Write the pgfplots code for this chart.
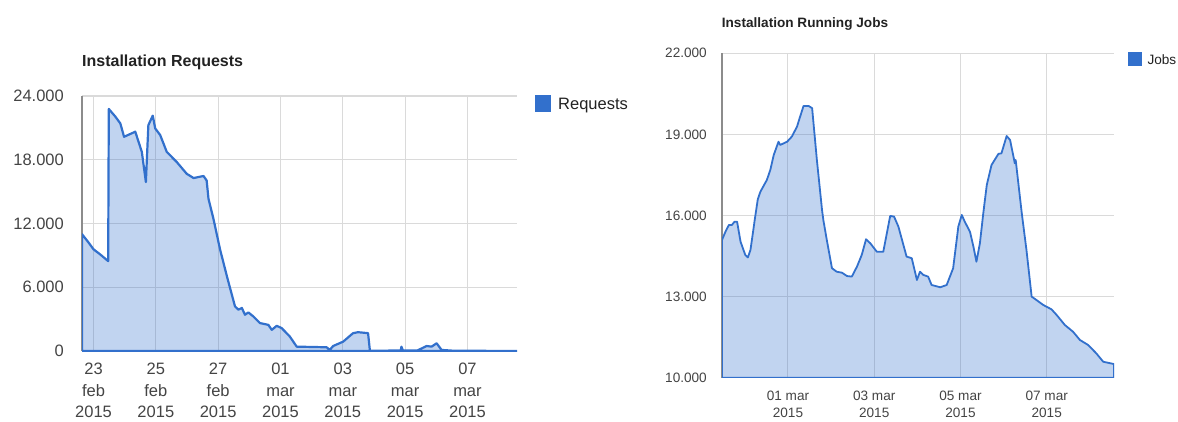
\documentclass[border=0pt]{standalone}
\usepackage{pgfplots}
\pgfplotsset{compat=1.18}
\usepackage{pgfplotstable}
\usepackage{fontspec}
\setmainfont{Liberation Sans}
\definecolor{gline}{RGB}{50,112,204}
\definecolor{gridc}{RGB}{218,218,218}
\definecolor{tickc}{RGB}{68,68,68}
\definecolor{titc}{RGB}{34,34,34}

\pgfplotstableread{
x y
-0.37 11000
-0.16 10210
0.00 9570
0.21 9100
0.47 8460
0.49 22780
0.70 22060
0.86 21420
0.98 20160
1.34 20640
1.55 18740
1.68 15900
1.76 21260
1.90 22150
1.98 20950
2.14 20320
2.35 18740
2.67 17790
2.99 16680
3.21 16280
3.53 16470
3.63 16050
3.69 14310
3.85 12420
4.06 9570
4.28 7040
4.38 5940
4.54 4200
4.65 3890
4.76 4050
4.86 3410
4.97 3630
5.13 3250
5.34 2630
5.61 2460
5.72 1990
5.88 2370
6.04 2150
6.30 1360
6.52 410
7.48 350
7.58 100
7.69 470
8.01 880
8.33 1680
8.49 1770
8.81 1680
8.87 20
9.86 50
9.88 410
9.93 50
10.40 60
10.69 470
10.85 410
11.01 730
11.17 100
11.53 30
13.59 0
}\reqdata

\pgfplotstableread{
x y
4.47 15095
4.55 15400
4.63 15650
4.70 15650
4.76 15770
4.82 15770
4.90 15030
5.01 14540
5.07 14450
5.13 14725
5.24 15960
5.30 16600
5.36 16880
5.51 17315
5.59 17685
5.67 18240
5.78 18730
5.82 18610
5.98 18730
6.09 18920
6.21 19290
6.27 19600
6.36 20050
6.48 20050
6.56 19970
6.67 18055
6.79 16200
6.82 15835
6.90 15095
7.02 14050
7.13 13920
7.25 13885
7.37 13760
7.48 13740
7.60 14110
7.71 14540
7.81 15120
7.91 14970
8.06 14660
8.21 14660
8.37 15985
8.46 15960
8.56 15590
8.75 14480
8.87 14420
8.99 13615
9.06 13920
9.14 13800
9.25 13740
9.33 13430
9.53 13345
9.68 13430
9.83 14050
9.95 15590
10.03 16020
10.10 15770
10.22 15400
10.30 14850
10.37 14290
10.45 14970
10.53 16100
10.61 17130
10.72 17870
10.88 18280
10.95 18300
11.07 18940
11.15 18795
11.26 17930
11.28 18055
11.42 16100
11.53 14725
11.65 13000
11.76 12875
11.92 12690
12.11 12530
12.23 12320
12.42 11950
12.61 11700
12.77 11395
12.96 11210
13.15 10900
13.31 10590
13.56 10505
}\jobdata

\pgfplotsset{
  gchart/.style={
    scale only axis,
    anchor=south west,
    axis lines=left,
    axis line style={-},
    major tick length=0pt,
    grid=major,
    grid style={gridc, line width=1.2pt},
    scaled y ticks=false,
    /pgf/number format/assume math mode=true,
    /pgf/number format/1000 sep={.},
    clip=true,
  },
}

\begin{document}
\begin{tikzpicture}[x=1pt,y=1pt]
\useasboundingbox (0,0) rectangle (1178,421);

% ---------- left chart ----------
\begin{axis}[gchart,
  at={(82pt,70pt)}, width=435pt, height=255pt,
  xmin=-0.37, xmax=13.59, ymin=0, ymax=24000,
  xtick={0,2,4,6,8,10,12},
  xticklabels={{23\\feb\\2015},{25\\feb\\2015},{27\\feb\\2015},{01\\mar\\2015},{03\\mar\\2015},{05\\mar\\2015},{07\\mar\\2015}},
  ytick={0,6000,12000,18000,24000},
  x axis line style={draw=black!80, line width=1.5pt},
  y axis line style={draw=black!45, line width=1.5pt},
  tick label style={font=\fontsize{16.5}{21.5}\selectfont, text=tickc},
  xticklabel style={align=center, anchor=north, inner sep=0pt, yshift=-12pt},
  yticklabel style={anchor=east, inner sep=0pt, xshift=-18pt},
]
\addplot[draw=gline, line width=2.2pt, fill=gline, fill opacity=0.3, line join=round] table[x=x,y=y] {\reqdata} \closedcycle;
\end{axis}

% ---------- right chart ----------
\begin{axis}[gchart,
  at={(722pt,43.3pt)}, width=392pt, height=324.4pt,
  xmin=4.47, xmax=13.56, ymin=10000, ymax=22000,
  xtick={6,8,10,12},
  xticklabels={{01 mar\\2015},{03 mar\\2015},{05 mar\\2015},{07 mar\\2015}},
  ytick={10000,13000,16000,19000,22000},
  x axis line style={draw=black!50, line width=1.3pt},
  y axis line style={draw=black!45, line width=1.3pt},
  grid style={gridc, line width=1pt},
  tick label style={font=\fontsize{13.6}{17}\selectfont, text=tickc},
  xticklabel style={align=center, anchor=north, inner sep=0pt, yshift=-13pt},
  yticklabel style={anchor=east, inner sep=0pt, xshift=-15pt},
]
\addplot[draw=gline, line width=1.8pt, fill=gline, fill opacity=0.3, line join=round] table[x=x,y=y] {\jobdata} \closedcycle;
\end{axis}

% titles
\node[anchor=base west, inner sep=0pt, text=titc, font=\bfseries\fontsize{16}{19}\selectfont] at (82,354.3) {Installation Requests};
\node[anchor=base west, inner sep=0pt, text=titc, font=\bfseries\fontsize{13.6}{16}\selectfont] at (721.7,393.7) {Installation Running Jobs};

% legends
\fill[gline] (535,309) rectangle (551,325.5);
\node[anchor=base west, inner sep=0pt, text=titc, font=\fontsize{16.5}{19}\selectfont] at (558,311) {Requests};
\fill[gline] (1128.3,355) rectangle (1142.3,368.7);
\node[anchor=base west, inner sep=0pt, text=titc, font=\fontsize{13.6}{16}\selectfont] at (1147.3,356.7) {Jobs};
\end{tikzpicture}
\end{document}
